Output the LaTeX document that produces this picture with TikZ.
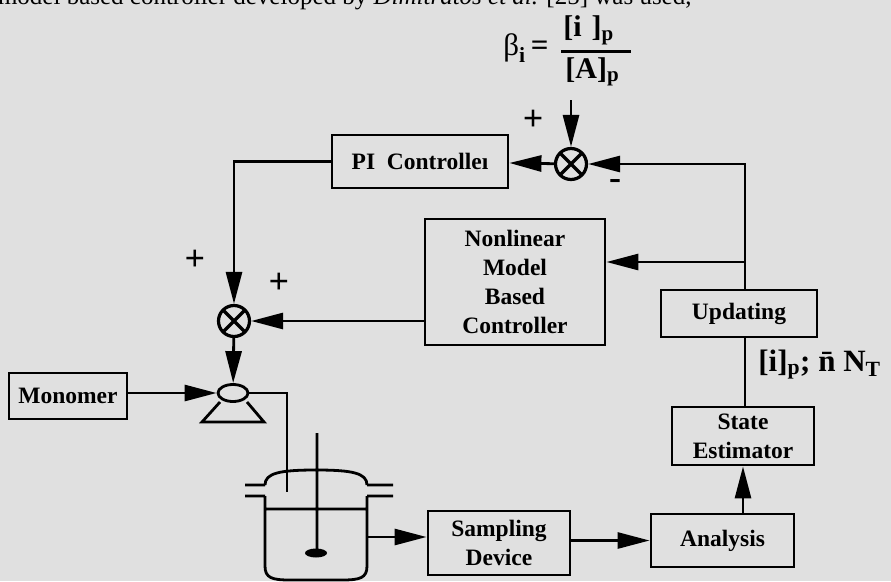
\documentclass[tikz,border=0pt]{standalone}
\usepackage{fontspec}
\setmainfont{Liberation Serif}
\usetikzlibrary{arrows.meta,shapes.geometric}
\definecolor{paper}{RGB}{224,224,224}
\begin{document}
\begin{tikzpicture}[x=1pt,y=-1pt,line width=2.8pt]
	\tikzset{box/.style={draw,inner sep=0pt,align=center,font=\fontsize{23.5}{29}\selectfont\bfseries},
		sum/.style={draw,circle,line width=3.2pt,minimum size=31pt,inner sep=0pt,
			path picture={\draw (path picture bounding box.north west)--(path picture bounding box.south east)
				(path picture bounding box.north east)--(path picture bounding box.south west);}},
		arr/.style={-{Triangle[length=32pt,width=16pt]}},
		sign/.style={inner sep=0pt,font=\fontsize{36}{36}\selectfont\bfseries}}
	\fill[paper] (0,0) rectangle (891,581);
	\useasboundingbox (0,0) rectangle (891,581);
	\node[anchor=base east,inner sep=0pt,font=\fontsize{25}{25}\selectfont] (H) at (693,4.5)
	{model based controller developed by \textit{Dimitratos et al.} [25] was used,};
	\node[anchor=east,inner sep=0pt,font=\fontsize{31}{31}\selectfont] (B) at (550,48) {β\textsubscript{\textbf{i}}\,\textbf{=}};
	\node[anchor=south west,inner sep=0pt,font=\fontsize{30}{30}\selectfont\bfseries] (Nu) at (562,46) {[i\,\,]\textsubscript{p}};
	\node[anchor=north west,inner sep=0pt,font=\fontsize{30}{30}\selectfont\bfseries] (De) at (564,56) {[A]\textsubscript{p}};
	\draw (561,51.5)--(631,51.5);
	\node[box,minimum width=118pt,minimum height=46pt] (MO) at (68,396) {Monomer};
	\node[box,minimum width=176pt,minimum height=53pt] (PI) at (420,161.5) {PI\ \ Controlleı};
	\node[box,minimum width=180pt,minimum height=126pt] (NM) at (515,282) {Nonlinear\\Model\\Based\\Controller};
	\node[box,minimum width=156pt,minimum height=47pt] (UP) at (739,313.5) {Updating};
	\node[box,minimum width=142pt,minimum height=58pt] (SE) at (743,436) {State\\Estimator};
	\node[box,minimum width=143pt,minimum height=53pt] (AN) at (722.5,540.5) {Analysis};
	\node[box,minimum width=142pt,minimum height=64pt] (SD) at (499,543) {Sampling\\Device};
	\node[sum] (S1) at (571,164) {};
	\node[sum] (S2) at (234,321) {};
	\node[draw,ellipse,minimum width=30pt,minimum height=17pt,inner sep=0pt] (P) at (233,393) {};
	\node[sign] (p1) at (533,120) {+};
	\node[sign] (p2) at (195,260) {+};
	\node[sign] (p3) at (279,283) {+};
	\node[sign] (m1) at (615,184) {-};
	\node[anchor=base west,inner sep=0pt,font=\fontsize{31}{31}\selectfont\bfseries] (L) at (757,371)
	{[i]\textsubscript{p}; \={n} N\textsubscript{T}};
	\path (571,100) coordinate (R)
	(745,164) coordinate (F)
	(745,262) coordinate (G)
	(367,537) coordinate (T);
	\draw[arr] (R)--(S1);
	\draw[arr] (UP.north-|F)--(F)--(S1);
	\draw[arr] (G)--(G-|NM.east);
	\draw[arr] (S1)--(PI);
	\draw[arr] (PI.west)-|(S2);
	\draw[arr] (S2-|NM.west)--(S2);
	\draw[arr] (S2)--(P);
	\draw[arr] (MO.east|-P)--(P);
	\draw (P.east)-|(287,492);
	\draw (UP.south-|F)--(SE.north-|F);
	\draw[arr] (T)--(T-|SD.west);
	\draw[arr] (SD.east|-AN.west)--(AN.west);
	\draw[arr] (SE.south|-AN.north)--(SE.south);
	\draw (220,402)--(202,422)--(264,422)--(247,402);
	\draw (245,485)--(265,485) (367,485)--(393,485)
	(245,496)--(265,496) (367,496)--(393,496)
	(265,485) .. controls (265,473) and (280,470) .. (316,470) .. controls (352,470) and (367,473) .. (367,485)
	(265,496)--(265,566) .. controls (265,578) and (272,580) .. (290,580)--(342,580)
	.. controls (360,580) and (367,578) .. (367,566)--(367,496)
	(265,509)--(367,509)
	(317,433)--(317,553);
	\fill (316,553) ellipse [x radius=11pt,y radius=4.5pt];
\end{tikzpicture}
\end{document}
